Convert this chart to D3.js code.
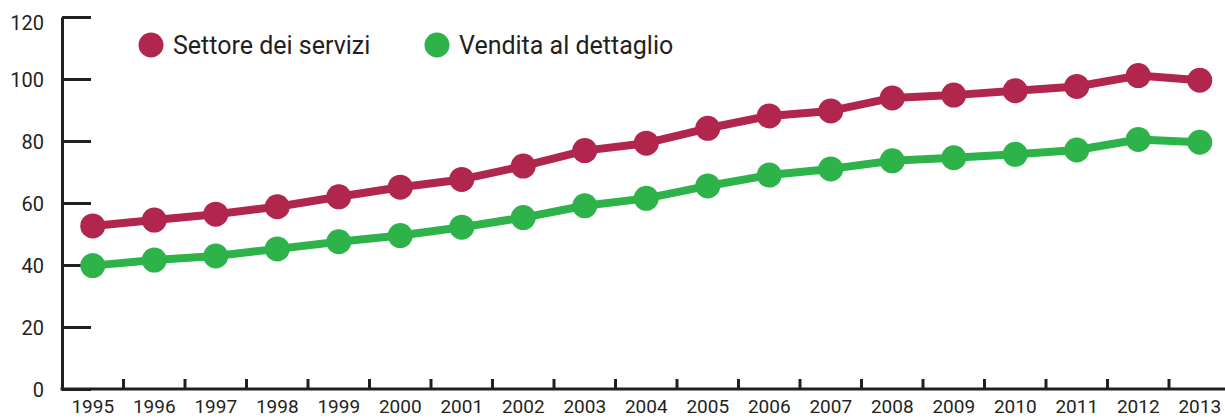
<!DOCTYPE html>
<html>
<head>
<meta charset="utf-8">
<script src="https://cdn.jsdelivr.net/npm/d3@7"></script>
<style>
  body { margin: 0; background: #fff; }
  svg { display: block; }
  text { font-family: Roboto, "DejaVu Sans Condensed", sans-serif; fill: #231f20; }
</style>
</head>
<body>
<svg></svg>
<script>
const width = 1225,
      height = 419;

const years = [1995, 1996, 1997, 1998, 1999, 2000, 2001, 2002, 2003, 2004,
               2005, 2006, 2007, 2008, 2009, 2010, 2011, 2012, 2013];

// Settore dei servizi
const servizi = [52.6, 54.5, 56.4, 58.8, 62.0, 65.1, 67.6, 71.9, 76.9, 79.3,
                 84.1, 88.1, 89.7, 93.9, 94.8, 96.2, 97.6, 101.1, 99.6];

// Vendita al dettaglio
const dettaglio = [39.8, 41.6, 42.9, 45.2, 47.5, 49.5, 52.2, 55.3, 59.1, 61.5,
                   65.5, 69.0, 71.0, 73.6, 74.6, 75.7, 77.1, 80.5, 79.6];

const yTicks = [0, 20, 40, 60, 80, 100, 120];

const seriesNames = ['Settore dei servizi', 'Vendita al dettaglio'];
const seriesColors = ['#b0264c', '#2eb34b'];

const x = d3.scaleBand()
            .domain(years)
            .range([62, 62 + 61.5 * years.length])
            .padding(0);

const y = d3.scaleLinear()
            .domain([0, 120])
            .range([389, 17]);

const cx = (yr) => x(yr) + x.bandwidth() / 2;

const svg = d3.select('svg')
    .attr('width', width)
    .attr('height', height);

// y axis
const yAxis = svg.append('g')
    .attr('transform', 'translate(62,0)')
    .call(d3.axisLeft(y)
      .tickValues(yTicks)
      .tickSizeInner(-29)
      .tickSizeOuter(0)
      .tickPadding(18));

yAxis.select('.domain')
    .attr('stroke', '#231f20')
    .attr('stroke-width', 3);

yAxis.selectAll('.tick line')
    .attr('stroke', '#231f20')
    .attr('stroke-width', 3);

yAxis.selectAll('.tick text')
    .attr('font-size', 20)
    .attr('font-family', null)
    .attr('dy', (d) => d === 120 ? '0.64em' : '0.36em');

// x axis line
svg.append('line')
    .attr('x1', 62 - 1.5)
    .attr('x2', width)
    .attr('y1', y(0))
    .attr('y2', y(0))
    .attr('stroke', '#231f20')
    .attr('stroke-width', 3);

// x ticks sit between the years
svg.append('g')
  .selectAll('line')
  .data(years.slice(1))
  .enter()
  .append('line')
    .attr('x1', (d) => x(d))
    .attr('x2', (d) => x(d))
    .attr('y1', y(0))
    .attr('y2', y(0) - 10)
    .attr('stroke', '#231f20')
    .attr('stroke-width', 3);

svg.append('g')
  .selectAll('text')
  .data(years)
  .enter()
  .append('text')
    .attr('x', (d) => cx(d))
    .attr('y', 413)
    .attr('text-anchor', 'middle')
    .attr('font-size', 19)
    .text((d) => d);

// series
const line = d3.line()
    .x((d) => cx(d.year))
    .y((d) => y(d.value));

[servizi, dettaglio].forEach((vals, i) => {
  const data = years.map((yr, j) => ({ year: yr, value: vals[j] }));

  svg.append('path')
      .datum(data)
      .attr('d', line)
      .attr('fill', 'none')
      .attr('stroke', seriesColors[i])
      .attr('stroke-width', 8)
      .attr('stroke-linejoin', 'round');

  svg.append('g')
    .selectAll('circle')
    .data(data)
    .enter()
    .append('circle')
      .attr('cx', (d) => cx(d.year))
      .attr('cy', (d) => y(d.value))
      .attr('r', 12.5)
      .attr('fill', seriesColors[i]);
});

// legend
const legendX = [151, 437];

const legend = svg.append('g')
  .selectAll('g')
  .data(seriesNames)
  .enter()
  .append('g')
    .attr('transform', (d, i) => `translate(${legendX[i]},45)`);

legend.append('circle')
    .attr('r', 12.5)
    .attr('fill', (d, i) => seriesColors[i]);

legend.append('text')
    .attr('x', 22)
    .attr('y', 9)
    .attr('font-size', 25)
    .text((d) => d);
</script>
</body>
</html>
